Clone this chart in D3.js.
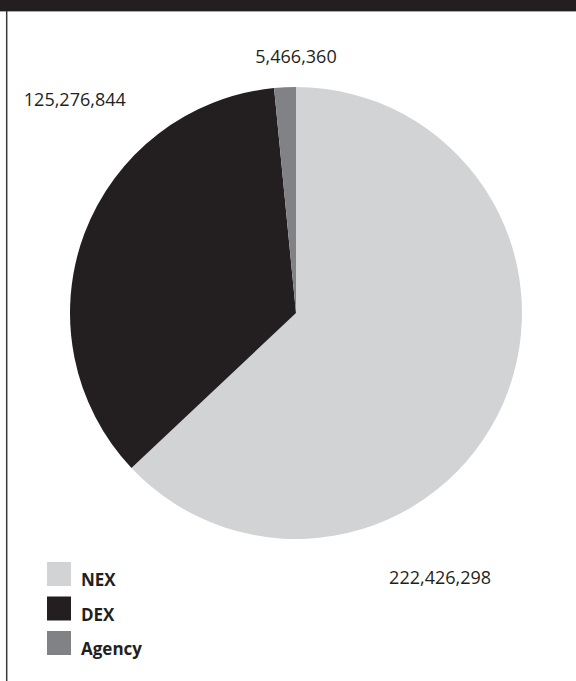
<!DOCTYPE html>
<html lang="en">
  <head>
    <meta charset="UTF-8" />
    <title>pie</title>
    <style>
      body { margin: 0; background: #fff; }
    </style>
  </head>
  <body>
    <svg id="chart" width="576" height="681"></svg>
    <script src="https://cdn.jsdelivr.net/npm/d3@7"></script>
    <script>
      var categories = ['NEX', 'DEX', 'Agency'];
      var values = [222426298, 125276844, 5466360];
      var colors = ['#d1d3d4', '#231f20', '#808285'];

      var width = 576;
      var height = 681;
      var cx = 296, cy = 313, radius = 226;
      // where each value label sits: angle in degrees clockwise from top, distance from center
      var labelPos = [[151.4, 301], [313.9, 307], [0, 256]];

      var svg = d3.select('#chart');

      // header strip
      svg.append('rect').attr('x', 0).attr('y', 0).attr('width', width).attr('height', 11).attr('fill', '#231f20');
      svg.append('line').attr('x1', 0).attr('x2', width).attr('y1', 11.5).attr('y2', 11.5)
        .attr('stroke', '#a7a9ac').attr('stroke-width', 1);
      svg.append('line').attr('x1', 6.7).attr('x2', 6.7).attr('y1', 11).attr('y2', height)
        .attr('stroke', '#3a3a3a').attr('stroke-width', 1.5);

      var data = categories.map((c, i) => ({ name: c, value: values[i], color: colors[i], pos: labelPos[i] }));

      var pie = d3.pie().sort(null).value(d => d.value);
      var arc = d3.arc().innerRadius(0).outerRadius(radius);

      var g = svg.append('g').attr('transform', `translate(${cx},${cy})`);

      g.selectAll('path')
        .data(pie(data))
        .join('path')
        .attr('d', arc)
        .attr('fill', d => d.data.color);

      var fmt = d3.format(',');
      g.selectAll('text.val')
        .data(data)
        .join('text')
        .attr('class', 'val')
        .attr('x', d => Math.sin(d.pos[0] * Math.PI / 180) * d.pos[1])
        .attr('y', d => -Math.cos(d.pos[0] * Math.PI / 180) * d.pos[1])
        .attr('dy', '0.35em')
        .attr('text-anchor', 'middle')
        .style('font', '18px "Open Sans", sans-serif')
        .attr('fill', '#231f20')
        .text(d => fmt(d.value));

      // legend
      var legend = svg.append('g').attr('transform', 'translate(47,562)');
      var item = legend.selectAll('g')
        .data(data)
        .join('g')
        .attr('transform', (d, i) => `translate(0,${i * 34.5})`);
      item.append('rect').attr('width', 24).attr('height', 24).attr('fill', d => d.color);
      item.append('text')
        .attr('x', 34)
        .attr('y', 24)
        .style('font', 'bold 17px "Open Sans", sans-serif')
        .attr('fill', '#231f20')
        .text(d => d.name);
    </script>
  </body>
</html>
